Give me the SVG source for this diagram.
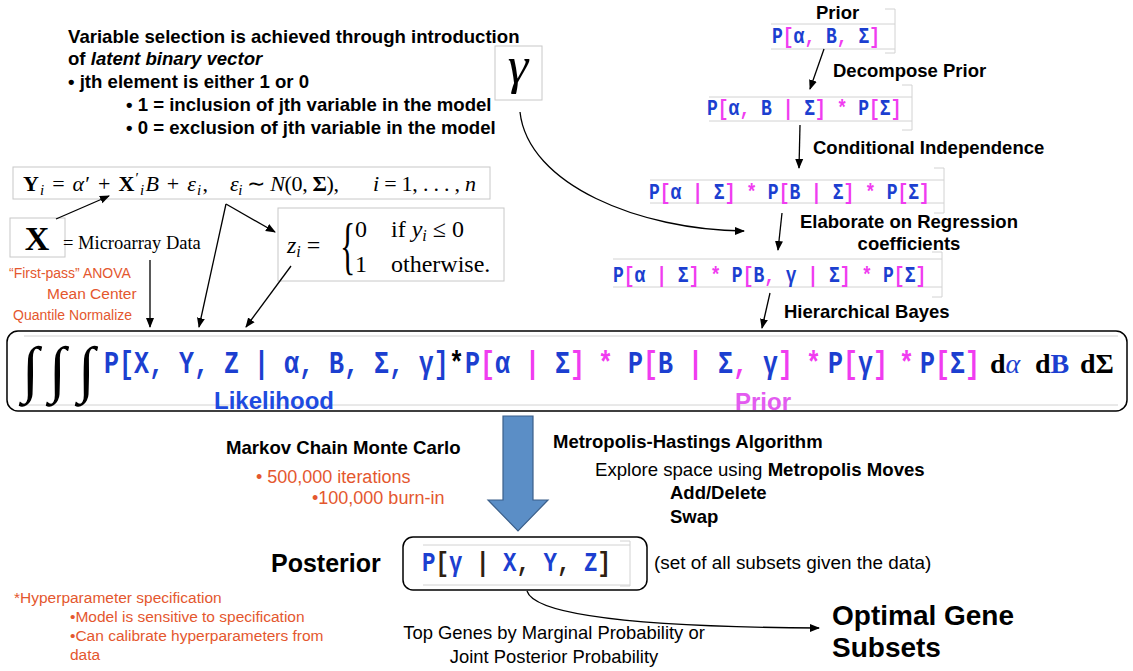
<svg xmlns="http://www.w3.org/2000/svg" width="1133" height="671" viewBox="0 0 1133 671">
<style>
.b{font-family:"Liberation Sans",Arial,sans-serif;font-weight:bold;fill:#000}
.r{font-family:"Liberation Sans",Arial,sans-serif;fill:#000}
.o{font-family:"Liberation Sans",Arial,sans-serif;fill:#E4572E}
.mono{font-family:"Liberation Mono","DejaVu Sans Mono",monospace;font-weight:bold}
.ser{font-family:"Liberation Serif","Times New Roman",serif;fill:#000}
.bl{fill:#1C3FD0}
.mg{fill:#F03CF0}
.dk{fill:#2E2010}
.k{fill:#000}
.gb{fill:none;stroke:#d2d2d2;stroke-width:1}
.box{fill:#fff;stroke:#c8c8c8;stroke-width:1}
.rb{fill:none;stroke:#000;stroke-width:1.5}
.con{fill:none;stroke:#000;stroke-width:1.3;marker-end:url(#ah)}
</style>
<defs>
<marker id="ah" viewBox="0 0 10 10" refX="9" refY="5" markerWidth="10" markerHeight="10" markerUnits="userSpaceOnUse" orient="auto"><path d="M0,1 L10,5 L0,9 z" fill="#000"/></marker>
</defs>
<rect width="1133" height="671" fill="#fff"/>

<g id="intro-text" font-size="18.6">
<text class="b" x="68" y="43">Variable selection is achieved through introduction</text>
<text class="b" x="68" y="65">of <tspan font-style="italic">latent binary vector</tspan></text>
<text class="b" x="68" y="88">• jth element is either 1 or 0</text>
<text class="b" x="126" y="111">• 1 = inclusion of jth variable in the model</text>
<text class="b" x="126" y="134">• 0 = exclusion of jth variable in the model</text>
</g>

<g id="gamma">
<rect class="box" x="495" y="46" width="47" height="54"/>
<text class="ser" x="518" y="83" font-size="52" font-style="italic" text-anchor="middle">γ</text>
</g>

<g id="prior-chain">
<text class="b" x="816" y="19" font-size="18.5">Prior</text>
<g id="f1">
<path class="gb" d="M771,24 H895 M771,49 H895 M885,9 H895 V53 H885"/>
<g transform="translate(772,43) scale(1,1.2)"><text class="mono bl" x="0" y="0" font-size="18">P<tspan class="mg">[</tspan>α<tspan class="mg">, </tspan>B<tspan class="mg">, </tspan>Σ<tspan class="mg">]</tspan></text></g>
</g>
<text class="b" x="833" y="77" font-size="18.5">Decompose Prior</text>
<g id="f2">
<path class="gb" d="M709,97 H912 M709,121 H912 M902,85 H912 V130 H902"/>
<g transform="translate(707,115) scale(1,1.2)"><text class="mono bl" x="0" y="0" font-size="18">P<tspan class="mg">[</tspan>α<tspan class="mg">, </tspan>B<tspan class="mg"> | </tspan>Σ<tspan class="mg">] * </tspan>P<tspan class="mg">[</tspan>Σ<tspan class="mg">]</tspan></text></g>
</g>
<text class="b" x="813" y="154" font-size="18.5">Conditional Independence</text>
<g id="f3">
<path class="gb" d="M650,180 H944 M650,203 H944 M934,168 H944 V213 H934"/>
<g transform="translate(649,199) scale(1,1.2)"><text class="mono bl" x="0" y="0" font-size="18">P<tspan class="mg">[</tspan>α<tspan class="mg"> | </tspan>Σ<tspan class="mg">] * </tspan>P<tspan class="mg">[</tspan>B<tspan class="mg"> | </tspan>Σ<tspan class="mg">] * </tspan>P<tspan class="mg">[</tspan>Σ<tspan class="mg">]</tspan></text></g>
</g>
<text class="b" x="909" y="228" font-size="18.5" text-anchor="middle">Elaborate on Regression</text>
<text class="b" x="909" y="250" font-size="18.5" text-anchor="middle">coefficients</text>
<g id="f4">
<path class="gb" d="M613,259 H942 M613,287 H942 M932,252 H942 V297 H932"/>
<g transform="translate(613,282) scale(1,1.2)"><text class="mono bl" x="0" y="0" font-size="18">P<tspan class="mg">[</tspan>α<tspan class="mg"> | </tspan>Σ<tspan class="mg">] * </tspan>P<tspan class="mg">[</tspan>B<tspan class="mg">, </tspan>γ<tspan class="mg"> | </tspan>Σ<tspan class="mg">] * </tspan>P<tspan class="mg">[</tspan>Σ<tspan class="mg">]</tspan></text></g>
</g>
<text class="b" x="784" y="318" font-size="18.5">Hierarchical Bayes</text>
</g>

<g id="model-eq">
<rect class="box" x="13" y="167" width="477" height="32"/>
<text class="ser" x="23" y="191" font-size="22" textLength="185" lengthAdjust="spacing"><tspan font-weight="bold">Y</tspan><tspan font-style="italic" font-size="15" dy="4">i</tspan><tspan dy="-4"> = </tspan><tspan font-style="italic">α</tspan>′ + <tspan font-weight="bold">X</tspan><tspan font-size="15" dy="-8">′</tspan><tspan font-style="italic" font-size="15" dy="12">i</tspan><tspan font-style="italic" dy="-4">B</tspan> + <tspan font-style="italic">ε</tspan><tspan font-style="italic" font-size="15" dy="4">i</tspan><tspan dy="-4">,</tspan></text>
<text class="ser" x="230" y="191" font-size="22" textLength="109" lengthAdjust="spacing"><tspan font-style="italic">ε</tspan><tspan font-style="italic" font-size="15" dy="4">i</tspan><tspan dy="-4"> ∼ </tspan><tspan font-style="italic">N</tspan>(0, <tspan font-weight="bold">Σ</tspan>),</text>
<text class="ser" x="373" y="191" font-size="22" textLength="103" lengthAdjust="spacing"><tspan font-style="italic">i</tspan> = 1, . . . , <tspan font-style="italic">n</tspan></text>
</g>

<g id="x-data">
<rect class="box" x="10" y="218" width="55" height="39"/>
<text class="ser" x="37" y="250" font-size="34" font-weight="bold" text-anchor="middle">X</text>
<text class="ser" x="63" y="249" font-size="18.5">= Microarray Data</text>
</g>

<g id="z-def">
<rect class="box" x="278" y="208" width="226" height="73"/>
<text class="ser" x="287" y="253" font-size="24"><tspan font-style="italic">z</tspan><tspan font-style="italic" font-size="16" dy="4">i</tspan><tspan dy="-4"> =</tspan></text>
<text class="ser" transform="translate(340,267) scale(0.5,1)" font-size="64">{</text>
<text class="ser" x="355" y="237" font-size="24">0</text>
<text class="ser" x="391" y="237" font-size="24">if <tspan font-style="italic">y</tspan><tspan font-style="italic" font-size="16" dy="4">i</tspan><tspan dy="-4"> ≤ 0</tspan></text>
<text class="ser" x="355" y="272" font-size="24">1</text>
<text class="ser" x="391" y="272" font-size="24">otherwise.</text>
</g>

<g id="preprocess">
<text class="o" x="9" y="278" font-size="14">“First-pass” ANOVA</text>
<text class="o" x="47" y="299" font-size="15.5">Mean Center</text>
<text class="o" x="13" y="320" font-size="14">Quantile Normalize</text>
</g>

<g id="integral">
<rect class="rb" x="7" y="331" width="1120" height="80" rx="11"/>
<path class="gb" d="M24,336 H1118 M24,405 H1118"/>
<text class="ser" x="22" y="390" font-size="62" fill="#222">∫</text>
<text class="ser" x="49" y="390" font-size="62" fill="#222">∫</text>
<text class="ser" x="78" y="390" font-size="62" fill="#222">∫</text>
<g transform="translate(0,373) scale(1,1.25)">
<text class="mono bl" x="104" y="0" font-size="25">P[X, Y, Z | α, B, Σ, γ]</text>
<text class="mono k" x="449" y="0" font-size="25">*</text>
<text class="mono bl" x="465" y="0" font-size="25">P<tspan class="mg">[</tspan>α<tspan class="mg"> | </tspan>Σ<tspan class="mg">]</tspan></text>
<text class="mono mg" x="598" y="0" font-size="25">*</text>
<text class="mono bl" x="628" y="0" font-size="25">P<tspan class="mg">[</tspan>B<tspan class="mg"> | </tspan>Σ<tspan class="mg">, </tspan>γ<tspan class="mg">]</tspan></text>
<text class="mono mg" x="806" y="0" font-size="25">*</text>
<text class="mono bl" x="828" y="0" font-size="25">P<tspan class="mg">[</tspan>γ<tspan class="mg">]</tspan></text>
<text class="mono mg" x="899" y="0" font-size="25">*</text>
<text class="mono bl" x="920" y="0" font-size="25">P<tspan class="mg">[</tspan>Σ<tspan class="mg">]</tspan></text>
</g>
<text class="ser" x="990" y="373" font-size="28" font-weight="bold">d<tspan class="bl" font-style="italic" font-weight="normal">α</tspan></text>
<text class="ser" x="1035" y="373" font-size="28" font-weight="bold">d<tspan class="bl">B</tspan></text>
<text class="ser" x="1080" y="373" font-size="28" font-weight="bold">dΣ</text>
<text class="b" x="214" y="409" font-size="24" style="fill:#1E4BE0">Likelihood</text>
<text class="b" x="735" y="410" font-size="24" style="fill:#E35BF0">Prior</text>
</g>

<g id="mcmc">
<text class="b" x="226" y="454" font-size="18.6">Markov Chain Monte Carlo</text>
<text class="o" x="256" y="483" font-size="18">• 500,000 iterations</text>
<text class="o" x="312" y="504" font-size="18">•100,000 burn-in</text>
</g>

<g id="mh">
<text class="b" x="553" y="448" font-size="18.5">Metropolis-Hastings Algorithm</text>
<text class="r" x="595" y="476" font-size="18.6">Explore space using <tspan font-weight="bold">Metropolis Moves</tspan></text>
<text class="b" x="670" y="499" font-size="18.5">Add/Delete</text>
<text class="b" x="670" y="523" font-size="18.5">Swap</text>
</g>

<g id="mcmc-arrow">
<path d="M503,416 H533 V500 H548 L518,531 L488,500 H503 Z" fill="#5B8EC6" stroke="#3B5F8A" stroke-width="1.2"/>
</g>

<g id="posterior">
<text class="b" x="271" y="572" font-size="25">Posterior</text>
<rect class="rb" x="403" y="537" width="244" height="53" rx="10"/>
<path class="gb" d="M423,545 H630 M423,585 H630 M620,541 H630 V586 H620"/>
<g transform="translate(422,571) scale(1,1.2)"><text class="mono bl" x="0" y="0" font-size="22.5">P<tspan class="dk">[</tspan>γ<tspan class="dk"> | </tspan>X<tspan class="dk">, </tspan>Y<tspan class="dk">, </tspan>Z<tspan class="dk">]</tspan></text></g>
<text class="r" x="654" y="569" font-size="18.9">(set of all subsets given the data)</text>
</g>

<g id="hyper">
<text class="o" x="14" y="603" font-size="15.5">*Hyperparameter specification</text>
<text class="o" x="70" y="622" font-size="15.5">•Model is sensitive to specification</text>
<text class="o" x="70" y="641" font-size="15.5">•Can calibrate hyperparameters from</text>
<text class="o" x="70" y="660" font-size="15.5">data</text>
</g>

<g id="top-genes">
<text class="r" x="554" y="639" font-size="18.4" text-anchor="middle">Top Genes by Marginal Probability or</text>
<text class="r" x="554" y="663" font-size="18.4" text-anchor="middle">Joint Posterior Probability</text>
</g>

<g id="optimal">
<text class="b" x="832" y="625" font-size="28">Optimal Gene</text>
<text class="b" x="832" y="657" font-size="28">Subsets</text>
</g>

<g id="connectors">
<path class="con" d="M520,112 C528,185 640,230 744,231"/>
<path class="con" d="M824,49 L810,89"/>
<path class="con" d="M800,125 L799,168"/>
<path class="con" d="M782,213 L778,250"/>
<path class="con" d="M770,293 L762,328"/>
<path class="con" d="M56,219 L109,196"/>
<path class="con" d="M226,204 L275,232"/>
<path class="con" d="M226,204 L199,327"/>
<path class="con" d="M291,266 L246,327"/>
<path class="con" d="M150,260 L150,327"/>
<path class="con" d="M527,591 C535,617 650,627 819,628"/>
</g>
</svg>
